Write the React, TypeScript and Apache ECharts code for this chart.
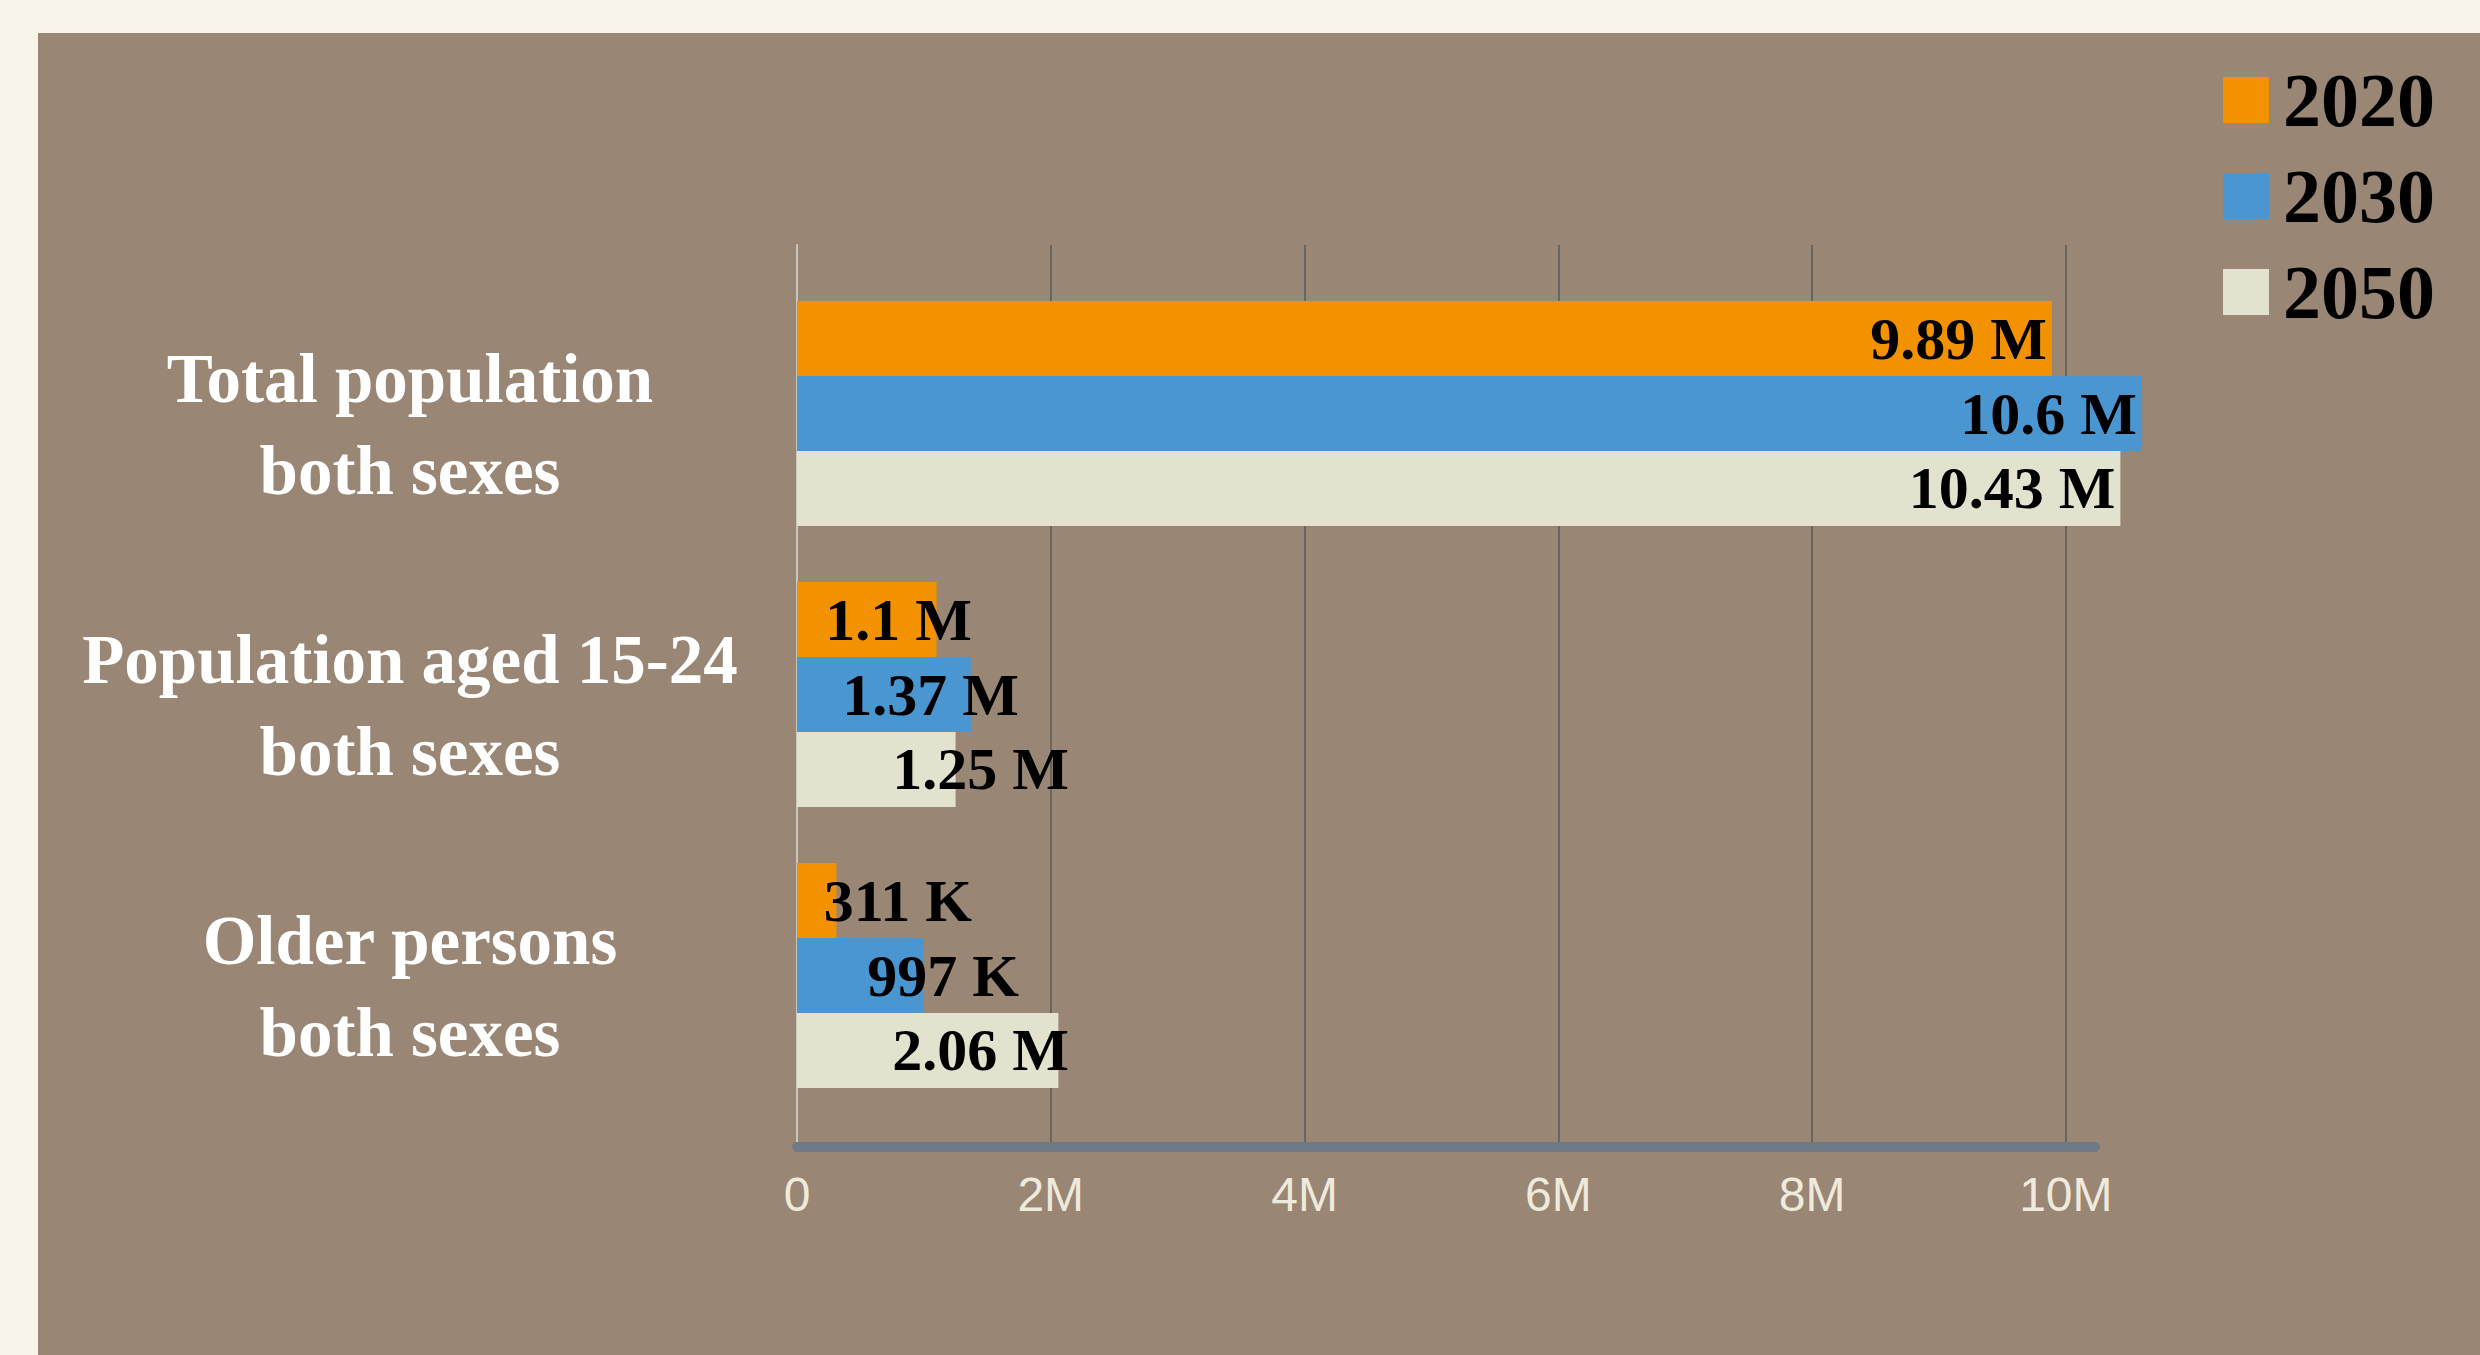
import React, { useEffect, useRef } from 'react';
import * as echarts from 'echarts';

// ---- data ----
const categories = [
  'Total population\nboth sexes',
  'Population aged 15-24\nboth sexes',
  'Older persons\nboth sexes',
];
const years = ['2020', '2030', '2050'];
const values2020 = [9890000, 1100000, 311000];
const values2030 = [10600000, 1370000, 997000];
const values2050 = [10430000, 1250000, 2060000];
const xTickValues = [0, 2000000, 4000000, 6000000, 8000000, 10000000];
const xTickLabels = ['0', '2M', '4M', '6M', '8M', '10M'];

// ---- styling / layout ----
const X_MAX = 10230000;
const GRID_LEFT = 759;
const GRID_W = 1298;
const seriesColors = ['#f29200', '#4a96d1', '#e3e2cf'];
const labelMinRight = [175, 222, 272];
const serif = '"Liberation Serif", "Times New Roman", serif';
const sans = '"Liberation Sans", Arial, sans-serif';

const fmt = (v: number) =>
  v >= 1e6 ? `${parseFloat((v / 1e6).toFixed(2))} M` : `${parseFloat((v / 1e3).toFixed(2))} K`;

export default function App() {
  const ref = useRef<HTMLDivElement>(null);

  useEffect(() => {
    if (!ref.current) return;
    const chart = echarts.init(ref.current, undefined, { renderer: 'svg' });
    const allValues = [values2020, values2030, values2050];

    const option: any = {
      animation: false,
      backgroundColor: '#9a8674',
      legend: {
        orient: 'vertical',
        left: 2180,
        top: 24,
        itemWidth: 46,
        itemHeight: 46,
        itemGap: 20,
        icon: 'rect',
        data: years,
        textStyle: {
          fontFamily: serif,
          fontWeight: 'bold',
          fontSize: 76,
          color: '#000',
          padding: [0, 0, 0, 9],
        },
      },
      grid: [
        { left: GRID_LEFT, top: 212, width: GRID_W, height: 902 },
        { left: GRID_LEFT, top: 240, width: GRID_W, height: 843 },
      ],
      xAxis: [
        {
          gridIndex: 0,
          type: 'value',
          min: 0,
          max: X_MAX,
          interval: 2000000,
          axisLine: { show: true, lineStyle: { color: '#6e7b86', width: 10 } },
          axisTick: { show: false },
          splitLine: {
            show: true,
            showMinLine: false,
            showMaxLine: false,
            lineStyle: { color: '#686460', width: 2 },
          },
          axisLabel: {
            showMaxLabel: false,
            margin: 23,
            color: '#efeadb',
            fontSize: 48,
            fontFamily: sans,
            formatter: (v: number) => {
              const i = xTickValues.indexOf(v);
              return i >= 0 ? xTickLabels[i] : '';
            },
          },
        },
        { gridIndex: 1, type: 'value', min: 0, max: X_MAX, show: false },
      ],
      yAxis: [
        {
          gridIndex: 0,
          type: 'category',
          data: categories,
          inverse: true,
          axisLine: { show: true, onZero: false, lineStyle: { color: '#cbc6bd', width: 2 } },
          axisTick: { show: false },
          axisLabel: { show: false },
          splitLine: { show: false },
        },
        {
          gridIndex: 1,
          type: 'category',
          data: categories,
          inverse: true,
          axisLine: { show: false },
          axisTick: { show: false },
          axisLabel: {
            margin: 387,
            align: 'center',
            color: '#ffffff',
            fontFamily: serif,
            fontWeight: 'bold',
            fontSize: 69,
            lineHeight: 92,
            formatter: (name: string) => `{s| }\n${name}`,
            rich: {
              s: { fontSize: 1, lineHeight: 22 },
            },
          },
        },
      ],
      series: years.map((y, s) => ({
        name: y,
        type: 'bar',
        xAxisIndex: 1,
        yAxisIndex: 1,
        barGap: '0%',
        barCategoryGap: '20%',
        clip: false,
        itemStyle: { color: seriesColors[s] },
        label: {
          show: true,
          color: '#000',
          fontFamily: serif,
          fontWeight: 'bold',
          fontSize: 60,
          formatter: (p: any) => fmt(p.value),
        },
        data: allValues[s].map((v) => {
          const len = (v * GRID_W) / X_MAX;
          return len - 5 >= labelMinRight[s]
            ? { value: v, label: { position: 'insideRight', distance: 5 } }
            : {
                value: v,
                label: {
                  position: [labelMinRight[s], '50%'],
                  align: 'right',
                  verticalAlign: 'middle',
                },
              };
        }),
      })),
    };

    chart.setOption(option);
    return () => chart.dispose();
  }, []);

  return (
    <div
      style={{
        position: 'fixed',
        left: 0,
        top: 0,
        width: 2480,
        height: 1355,
        background: '#f8f4ea',
        overflow: 'hidden',
      }}
    >
      <div ref={ref} style={{ position: 'absolute', left: 38, top: 33, width: 2442, height: 1322 }} />
    </div>
  );
}
